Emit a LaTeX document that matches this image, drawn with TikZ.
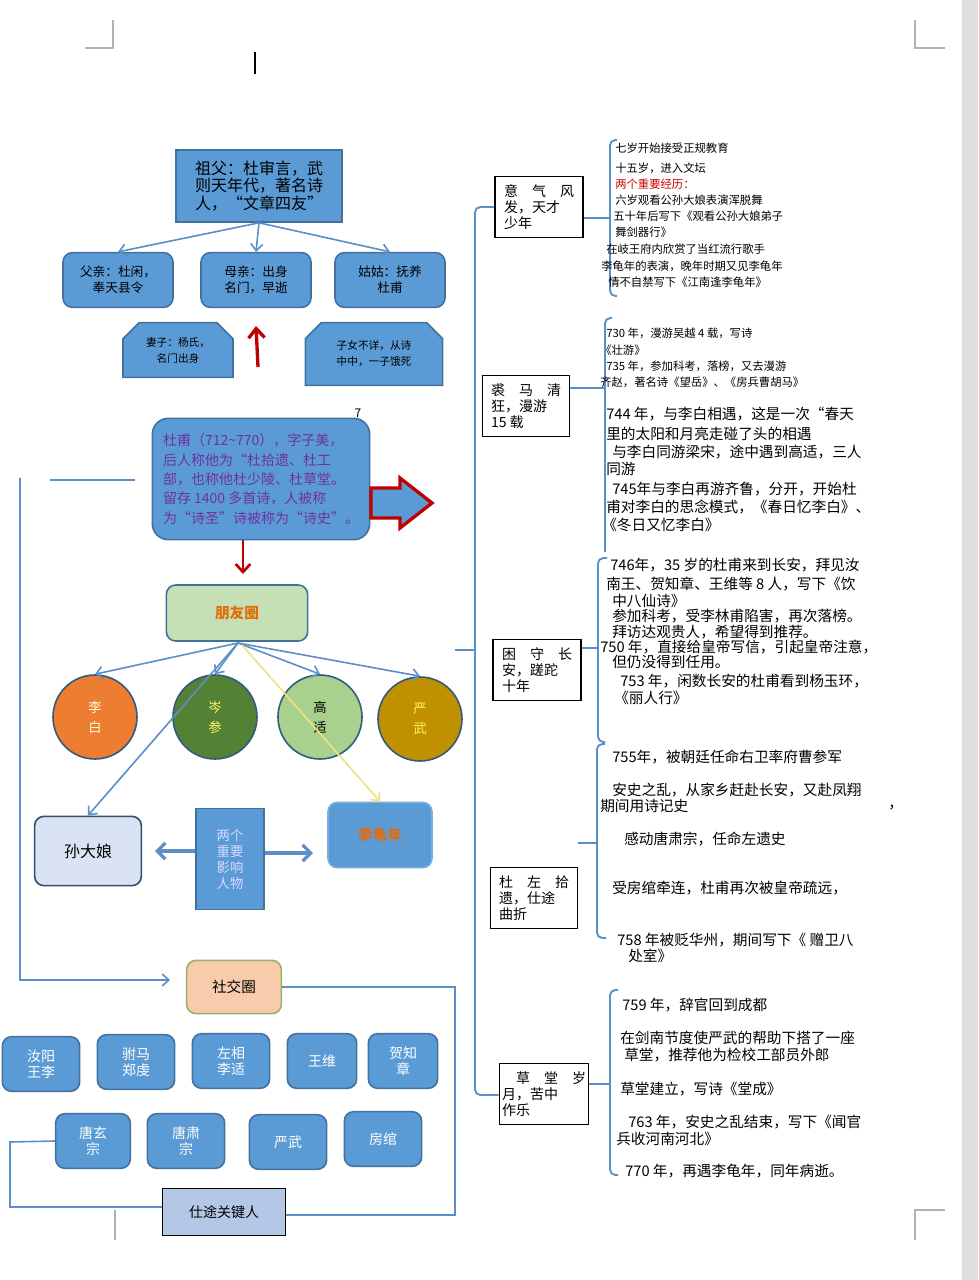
\documentclass[tikz,border=0pt]{standalone}
\usepackage{fontspec}
\setmainfont{Noto Sans CJK SC}
\usetikzlibrary{shapes.misc,arrows.meta,calc}
\definecolor{bfill}{HTML}{5B9BD5}
\definecolor{bdraw}{HTML}{41719C}
\definecolor{lin}{HTML}{5B8FC8}
\definecolor{dred}{HTML}{C00000}
\definecolor{purp}{HTML}{7030A0}
\definecolor{orng}{HTML}{E36C09}
\begin{document}
\begin{tikzpicture}[x=0.75pt,y=-0.75pt,
  bx/.style={draw=bdraw,line width=1.2pt,fill=bfill,align=center,inner sep=1pt,font=\fontsize{9.5}{12}\selectfont},
  rb/.style={bx,rounded corners=7pt},
  ch/.style={bx,chamfered rectangle,chamfered rectangle corners={north west,north east},chamfered rectangle xsep=6pt,chamfered rectangle ysep=6pt},
  cat/.style={draw=black,line width=1.2pt,fill=white,align=left,inner sep=2pt,font=\fontsize{10.5}{12}\selectfont},
  tx/.style={anchor=west,inner sep=0pt,font=\fontsize{8.5}{10}\selectfont},
  tl/.style={anchor=west,inner sep=0pt,font=\fontsize{11}{12}\selectfont},
  cir/.style={circle,draw=bdraw!80!black,line width=1.2pt,minimum size=63pt,align=center,font=\fontsize{10}{15}\selectfont},
  ln/.style={draw=lin,line width=1.2pt},
  ar/.style={ln,-{Straight Barb[length=5pt,width=9pt]}},
  brk/.style={draw=lin,line width=1.4pt,rounded corners=4pt},
  cropm/.style={draw=gray!60,line width=0.8pt}]
\useasboundingbox (0,0) rectangle (978,1280);
\fill[white] (0,0) rectangle (978,1280);
\fill[gray!25] (962,0) rectangle (978,1280);
% crop marks
\draw[cropm] (85,48)--(113,48)--(113,20);
\draw[cropm] (945,48)--(915,48)--(915,20);
\draw[cropm] (945,1210)--(915,1210)--(915,1240);
\draw[line width=1.5pt] (255,52)--(255,74);
% family
\node[bx,minimum width=124.5pt,minimum height=54pt,font=\fontsize{12}{13}\selectfont] (gf) at (259,186) {祖父：杜审言，武\\则天年代，著名诗\\人，“文章四友”};
\node[rb,minimum width=82.5pt,minimum height=41pt] (fa) at (118,280) {父亲：杜闲，\\奉天县令};
\node[rb,minimum width=82.5pt,minimum height=41pt] (mo) at (256,280) {母亲：出身\\名门，早逝};
\node[rb,minimum width=82.5pt,minimum height=41pt] (au) at (390,280) {姑姑：抚养\\杜甫};
\draw[ar] (gf.south) -- (fa.north);
\draw[ar] (gf.south) -- (mo.north);
\draw[ar] (gf.south) -- (au.north);
\node[ch,minimum width=82.5pt,minimum height=41pt,font=\fontsize{8}{12}\selectfont] (wf) at (178,350) {妻子：杨氏，\\名门出身};
\node[ch,minimum width=103pt,minimum height=47pt,font=\fontsize{8}{12}\selectfont] (kd) at (374,354) {子女不详，从诗\\中中，一子饿死};
\coordinate (ua) at (258,367);
\draw[dred,line width=2.5pt,-{Straight Barb[length=7pt,width=12pt]}] (ua) -- (mo.south|-0,326);
% Du Fu
\node[rb,rounded corners=12pt,minimum width=163pt,minimum height=91pt,text=purp,align=left,font=\fontsize{10.5}{14.5}\selectfont] (du) at (261,479) {杜甫（712\textasciitilde770），字子美，\\后人称他为“杜拾遗、杜工\\部，也称他杜少陵、杜草堂。\\留存 1400 多首诗，人被称\\为“诗圣”诗被称为“诗史”。};
\node[font=\fontsize{9}{10}\selectfont] (seven) at (358,413) {7};
\draw[dred,line width=2.5pt,fill=bfill] (371,488)--(400,488)--(400,478)--(432,503)--(400,528)--(400,518)--(371,518)--cycle;
\draw[dred,line width=2pt,-{Straight Barb[length=6pt,width=11pt]}] (du.south-|243,0) -- (243,574);
% friends
\node[rb,fill={rgb,255:red,197;green,224;blue,180},minimum width=106pt,minimum height=42pt,text=orng,font=\bfseries\fontsize{11}{12}\selectfont] (fr) at (237,613) {朋友圈};
\node[cir,fill={rgb,255:red,237;green,125;blue,49},text=white!85!yellow] (lb) at (95,717) {李\\白};
\node[cir,fill={rgb,255:red,84;green,130;blue,53},text=yellow!60!white] (cs) at (215,717) {岑\\参};
\node[cir,fill={rgb,255:red,169;green,209;blue,142}] (gs) at (320,717) {高\\适};
\node[cir,fill={rgb,255:red,191;green,144;blue,0},text=yellow!70!white] (yw) at (420,719) {严\\武};
\coordinate (fs) at (238,643);
\draw[ar] (fs) -- (lb.north);
\draw[ar] (fs) -- (cs.north);
\draw[ar] (fs) -- (gs.north);
\draw[ar] (fs) -- (yw.north);
\node[rb,fill={rgb,255:red,218;green,227;blue,243},draw=bdraw!70!black,minimum width=80pt,minimum height=52pt,font=\fontsize{12}{13}\selectfont] (sun) at (88,851) {孙大娘};
\node[bx,minimum width=51pt,minimum height=76pt,text=white!85!blue,font=\fontsize{10}{12}\selectfont] (two) at (230,859) {两个\\重要\\影响\\人物};
\node[rb,draw=bfill!80,minimum width=78pt,minimum height=49pt,text=orng,font=\bfseries\fontsize{11}{12}\selectfont] (lg) at (380,835) {李龟年};
\draw[ar] (fs) -- (sun.north);
\draw[draw={rgb,255:red,240;green,225;blue,130},line width=1.2pt,-{Straight Barb[length=5pt,width=9pt]}] (242,645) -- (lg.north);
\draw[draw=lin,line width=2.5pt,-{Straight Barb[length=6pt,width=12pt]}] (two.west|-0,851) -- (155,851);
\draw[draw=lin,line width=2.5pt,-{Straight Barb[length=6pt,width=12pt]}] (two.east|-0,853) -- (313,853);
% social
\node[rb,fill={rgb,255:red,248;green,203;blue,173},draw={rgb,255:red,150;green,180;blue,100},minimum width=71pt,minimum height=40pt,font=\fontsize{11}{12}\selectfont] (so) at (234,987) {社交圈};
\coordinate (lt) at (135,480);
\draw[ln] (lt) -- (50,480);
\draw[ar] (20,478) -- (20,980) -- (170,980);
\node[rb,minimum width=58pt,minimum height=41pt,text=white,font=\fontsize{10.5}{12}\selectfont] (r11) at (41,1064) {汝阳\\王李};
\node[rb,minimum width=58pt,minimum height=41pt,text=white,font=\fontsize{10.5}{12}\selectfont] (r12) at (136,1062) {驸马\\郑虔};
\node[rb,minimum width=58pt,minimum height=41pt,text=white,font=\fontsize{10.5}{12}\selectfont] (r13) at (231,1061) {左相\\李适};
\node[rb,minimum width=52pt,minimum height=41pt,text=white,font=\fontsize{10.5}{12}\selectfont] (r14) at (322,1061) {王维};
\node[rb,minimum width=52pt,minimum height=41pt,text=white,font=\fontsize{10.5}{12}\selectfont] (r15) at (403,1061) {贺知\\章};
\node[rb,minimum width=56pt,minimum height=41pt,text=white,font=\fontsize{10.5}{12}\selectfont] (r21) at (93,1141) {唐玄\\宗};
\node[rb,minimum width=58pt,minimum height=41pt,text=white,font=\fontsize{10.5}{12}\selectfont] (r22) at (186,1141) {唐肃\\宗};
\node[rb,minimum width=58pt,minimum height=41pt,text=white,font=\fontsize{10.5}{12}\selectfont] (r23) at (288,1142) {严武};
\node[rb,minimum width=58pt,minimum height=41pt,text=white,font=\fontsize{10.5}{12}\selectfont] (r24) at (383,1139) {房绾};
\node[draw=black,line width=1.2pt,fill={rgb,255:red,180;green,199;blue,231},minimum width=92pt,minimum height=35pt,font=\fontsize{10.5}{12}\selectfont] (key) at (224,1212) {仕途关键人};
\draw[ln] (so.east) -- (455,987) -- (455,1215) -- (key.east|-0,1215);
\draw[ln] (key.west|-0,1207) -- (10,1207) -- (10,1142) -- (r21.west);
\draw[draw=gray!60,line width=1pt] (115,1210) -- (115,1240);
% categories
\node[cat,minimum width=66pt,minimum height=46pt] (b1) at (539,207) {意　气　风\\发，天才\\少年};
\node[cat,minimum width=65pt,minimum height=46pt] (b2) at (526,406) {裘　马　清\\狂，漫游\\15 载};
\node[cat,minimum width=66pt,minimum height=46pt] (b3) at (537,670) {困　守　长\\安，蹉跎\\十年};
\node[cat,minimum width=65pt,minimum height=46pt] (b4) at (534,898) {杜　左　拾\\遗，仕途\\曲折};
\node[cat,minimum width=67pt,minimum height=46pt] (b5) at (544,1094) {　草　堂　岁\\月，苦中\\作乐};
\draw[brk] (b1.west) -- (475,207) -- (475,1095) -- (b5.west|-0,1095);
\draw[ln] (455,650) -- (475,650);
% group brackets
\draw[brk] (617,140) -- (610,140) -- (610,296) -- (617,296);
\draw[ln] (b1.east|-0,218) -- (610,218);
\draw[brk] (612,318) -- (605,318) -- (605,552);
\draw[ln] (b2.east|-0,388) -- (605,388);
\draw[brk] (607,558) -- (598,558) -- (598,742) -- (605,742);
\draw[ln] (b3.east|-0,648) -- (598,648);
\draw[brk] (605,744) -- (597,744) -- (597,938) -- (606,938);
\draw[ln] (578,843) -- (597,843);
\draw[brk] (618,990) -- (610,990) -- (610,1175) -- (618,1175);
\draw[ln] (b5.east|-0,1084) -- (610,1084);
% group 1 text
\node[tx] at (615,148) {七岁开始接受正规教育};
\node[tx] at (615,168) {十五岁，进入文坛};
\node[tx,text=red!80!black] at (615,184) {两个重要经历：};
\node[tx] at (615,200) {六岁观看公孙大娘表演浑脱舞};
\node[tx] at (613,216) {五十年后写下《观看公孙大娘弟子};
\node[tx] at (615,232) {舞剑器行》};
\node[tx] at (606,249) {在岐王府内欣赏了当红流行歌手};
\node[tx] at (601,266) {李龟年的表演，晚年时期又见李龟年};
\node[tx] at (608,282) {情不自禁写下《江南逢李龟年》};
% group 2
\node[tx] at (606,333) {730 年，漫游吴越 4 载，写诗};
\node[tx] at (600,350) {《壮游》};
\node[tx] at (606,366) {735 年，参加科考，落榜，又去漫游};
\node[tx] at (600,382) {齐赵，著名诗《望岳》、《房兵曹胡马》};
\node[tl] at (606,414) {744 年，与李白相遇，这是一次“春天};
\node[tl] at (606,434) {里的太阳和月亮走碰了头的相遇};
\node[tl] at (612,452) {与李白同游梁宋，途中遇到高适，三人};
\node[tl] at (606,469) {同游};
\node[tl] at (612,489) {745年与李白再游齐鲁，分开，开始杜};
\node[tl] at (606,507) {甫对李白的思念模式，《春日忆李白》、};
\node[tl] at (602,525) {《冬日又忆李白》};
% group 3
\node[tl] at (610,565) {746年，35 岁的杜甫来到长安，拜见汝};
\node[tl] at (606,584) {南王、贺知章、王维等 8 人，写下《饮};
\node[tl] at (612,601) {中八仙诗》};
\node[tl] at (612,616) {参加科考，受李林甫陷害，再次落榜。};
\node[tl] at (612,632) {拜访达观贵人，希望得到推荐。};
\node[tl] at (600,647) {750 年，直接给皇帝写信，引起皇帝注意，};
\node[tl] at (612,662) {但仍没得到任用。};
\node[tl] at (620,681) {753 年，闲数长安的杜甫看到杨玉环，};
\node[tl] at (614,698) {《丽人行》};
% group 4
\node[tl] at (612,757) {755年，被朝廷任命右卫率府曹参军};
\node[tl] at (612,790) {安史之乱，从家乡赶赴长安，又赴凤翔};
\node[tl] at (600,806) {期间用诗记史};
\node[tl] at (888,808) {，};
\node[tl] at (624,839) {感动唐肃宗，任命左遗史};
\node[tl] at (612,888) {受房绾牵连，杜甫再次被皇帝疏远，};
\node[tl] at (617,940) {758 年被贬华州，期间写下《 赠卫八};
\node[tl] at (628,956) {处室》};
% group 5
\node[tl] at (622,1005) {759 年，辞官回到成都};
\node[tl] at (620,1038) {在剑南节度使严武的帮助下搭了一座};
\node[tl] at (624,1055) {草堂，推荐他为检校工部员外郎};
\node[tl] at (620,1089) {草堂建立，写诗《堂成》};
\node[tl] at (628,1122) {763 年，安史之乱结束，写下《闻官};
\node[tl] at (616,1139) {兵收河南河北》};
\node[tl] at (625,1171) {770 年，再遇李龟年，同年病逝。};
\end{tikzpicture}
\end{document}
